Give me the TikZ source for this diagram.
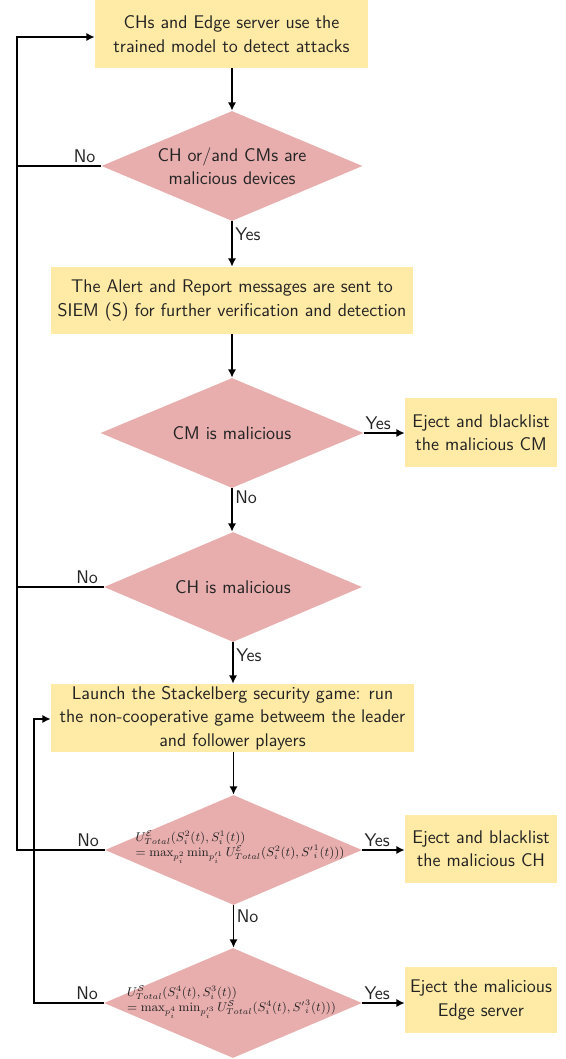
\documentclass[tikz,border=0pt]{standalone}
\usepackage{amsmath}
\usepackage{graphicx}
\usetikzlibrary{shapes.geometric,arrows.meta,calc}
\definecolor{boxfill}{RGB}{255,235,166}
\definecolor{diafill}{RGB}{232,174,174}
\definecolor{txt}{RGB}{35,35,35}
\newlength\unitpx
\setlength\unitpx{0.6pt}
\newcommand{\mathpair}[2]{\scalebox{0.843}{\fontsize{9}{10}\selectfont\vbox{\baselineskip=10.5pt\lineskiplimit=-100pt\hbox{#1}\hbox{#2}}}}
\begin{document}
\begin{tikzpicture}[x=0.6pt,y=-0.6pt,
  font=\sffamily\fontsize{11}{14}\selectfont,
  boxnode/.style={draw=none,fill=boxfill,align=center,inner sep=0pt,text=txt},
  dianode/.style={draw=none,fill=diafill,diamond,inner sep=0pt},
  diatext/.style={align=center,text=txt,inner sep=0pt},
  mathtext/.style={text=txt,inner sep=0pt},
  arr/.style={-{Latex[length=5pt,width=5pt]},line width=1pt},
  lbl/.style={text=txt,inner sep=1.5pt}]
\useasboundingbox (0,0) rectangle (566,1059);
% boxes
\node[boxnode,minimum width=273*\unitpx,minimum height=68*\unitpx] (b1) at (231.5,34) {CHs and Edge server use the\\trained model to detect attacks};
\node[boxnode,minimum width=362*\unitpx,minimum height=67*\unitpx] (b2) at (232,300.5) {The Alert and Report messages are sent to\\SIEM (S) for further verification and detection};
\node[boxnode,minimum width=152*\unitpx,minimum height=69*\unitpx] (b3) at (481,432.5) {Eject and blacklist\\the malicious CM};
\node[boxnode,minimum width=363*\unitpx,minimum height=68*\unitpx] (b4) at (232.5,718) {Launch the Stackelberg security game: run\\the non-cooperative game betweem the leader\\and follower players};
\node[boxnode,minimum width=152*\unitpx,minimum height=68*\unitpx] (b5) at (481,849) {Eject and blacklist\\the malicious CH};
\node[boxnode,minimum width=152*\unitpx,minimum height=66*\unitpx] (b6) at (481,1000) {Eject the malicious\\Edge server};
% diamonds
\node[dianode,minimum width=261*\unitpx,minimum height=110*\unitpx] (d1) at (232,166) {};
\node[diatext] at (d1) {CH or/and CMs are\\malicious devices};
\node[dianode,minimum width=263*\unitpx,minimum height=110*\unitpx] (d2) at (232,433) {};
\node[diatext] at (d2) {CM is malicious};
\node[dianode,minimum width=258*\unitpx,minimum height=110*\unitpx] (d3) at (233,587) {};
\node[diatext] at (d3) {CH is malicious};
\node[dianode,minimum width=257*\unitpx,minimum height=110*\unitpx] (d4) at (233.5,850) {};
\node[mathtext] at ($(d4)+(6.5,-3)$) {\mathpair{$U^{\mathcal{E}}_{Total}(S^2_i(t),S^1_i(t))$}{$=\max_{p_i^2}\min_{p'^1_i}U^{\mathcal{E}}_{Total}(S^2_i(t),{S'}^1_i(t)))$}};
\node[dianode,minimum width=258*\unitpx,minimum height=110*\unitpx] (d5) at (233,1003) {};
\node[mathtext] at ($(d5)+(-1.5,-1)$) {\mathpair{$U^{\mathcal{S}}_{Total}(S^4_i(t),S^3_i(t))$}{$=\max_{p_i^4}\min_{p'^3_i}U^{\mathcal{S}}_{Total}(S^4_i(t),{S'}^3_i(t)))$}};
% vertical flow
\draw[arr] (b1.south -| d1.north) -- (d1.north);
\draw[arr] (d1.south) -- node[pos=0.28,right,lbl]{Yes} (d1.south |- b2.north);
\draw[arr] (b2.south -| d2.north) -- (d2.north);
\draw[arr] (d2.south) -- node[pos=0.2,right,lbl]{No} (d2.south |- d3.north);
\draw[arr] (d3.south) -- node[pos=0.3,right,lbl]{Yes} (d3.south |- b4.north);
\draw[arr] (b4.south -| d4.north) -- (d4.north);
\draw[arr] (d4.south) -- node[pos=0.25,right,lbl]{No} (d4.south |- d5.north);
% yes to right
\draw[arr] (d2.east) -- node[pos=0.35,above,lbl]{Yes} (d2.east -| b3.west);
\draw[arr] (d4.east) -- node[pos=0.35,above,lbl]{Yes} (d4.east -| b5.west);
\draw[arr] (d5.east) -- node[pos=0.35,above,lbl]{Yes} (d5.east -| b6.west);
% left loops
\coordinate (L1) at (17,37);
\coordinate (L2) at (34,719);
\draw[arr] (d4.west) -| (L1) -- (L1 -| b1.west);
\draw[line width=1pt] (d1.west) -- (d1.west -| L1);
\draw[line width=1pt] (d3.west) -- (d3.west -| L1);
\draw[arr] (d5.west) -| (L2) -- (L2 -| b4.west);
\node[lbl,above left] at ($(d1.west)+(-3,0)$) {No};
\node[lbl,above left] at ($(d3.west)+(-3,0)$) {No};
\node[lbl,above left] at ($(d4.west)+(-3,0)$) {No};
\node[lbl,above left] at ($(d5.west)+(-3,0)$) {No};
\end{tikzpicture}
\end{document}
